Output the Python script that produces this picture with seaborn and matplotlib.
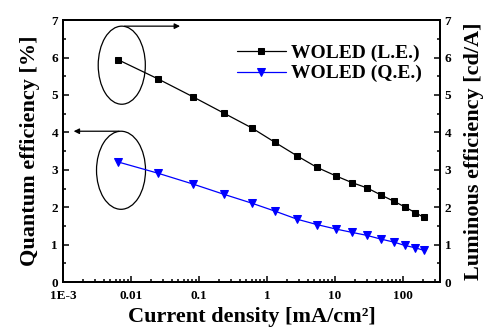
import numpy as np
import pandas as pd
import matplotlib
matplotlib.use("Agg")
import matplotlib.pyplot as plt
import seaborn as sns
from matplotlib.patches import Ellipse
from matplotlib.ticker import FixedLocator, FixedFormatter, LogLocator, MultipleLocator, NullFormatter

# данные
current_density = [0.0065, 0.025, 0.082, 0.23, 0.6, 1.3, 2.8, 5.4, 10.3, 17.8, 29.5, 47.5, 74, 107, 151, 204]
luminous_eff = [5.94, 5.43, 4.95, 4.52, 4.12, 3.74, 3.37, 3.07, 2.84, 2.66, 2.52, 2.33, 2.16, 2.01, 1.86, 1.73]
quantum_eff = [3.21, 2.91, 2.62, 2.35, 2.11, 1.90, 1.68, 1.54, 1.42, 1.33, 1.25, 1.15, 1.07, 0.98, 0.92, 0.85]
x_ticks = [1e-3, 1e-2, 1e-1, 1, 10, 100]
x_tick_labels = ["1E-3", "0.01", "0.1", "1", "10", "100"]
series_names = ["WOLED (L.E.)", "WOLED (Q.E.)"]

sns.set_style("ticks", {"axes.edgecolor": "black", "xtick.color": "black", "ytick.color": "black",
                        "text.color": "black", "axes.labelcolor": "black"})
plt.rcParams["font.family"] = ["Liberation Serif", "DejaVu Serif"]
plt.rcParams["font.weight"] = "bold"

df = pd.DataFrame({"J": current_density, "LE": luminous_eff, "QE": quantum_eff})

fig, ax = plt.subplots(figsize=(4.92, 3.3), dpi=100)
fig.subplots_adjust(left=0.128, right=0.894, bottom=0.145, top=0.939)
ax2 = ax.twinx()

sns.lineplot(data=df, x="J", y="QE", ax=ax, color="blue", marker="v", markersize=5.5,
             markeredgecolor="blue", linewidth=0.9, label=series_names[1], legend=False)
sns.lineplot(data=df, x="J", y="LE", ax=ax2, color="black", marker="s", markersize=4.6,
             markeredgecolor="black", linewidth=0.9, label=series_names[0], legend=False)

for a in (ax, ax2):
    a.set_xscale("log")
    a.set_xlim(1e-3, 350)
    a.set_ylim(0, 7)
    a.yaxis.set_major_locator(MultipleLocator(1))
    a.yaxis.set_minor_locator(MultipleLocator(0.5))
    a.tick_params(which="both", direction="in", labelsize=9.5, width=1.1, colors="black")
    a.tick_params(which="major", length=4)
    a.tick_params(which="minor", length=2.5)
    for s in a.spines.values():
        s.set_linewidth(1.4)
        s.set_color("black")

ax.xaxis.set_major_locator(FixedLocator(x_ticks))
ax.xaxis.set_major_formatter(FixedFormatter(x_tick_labels))
ax.xaxis.set_minor_locator(LogLocator(base=10, subs=np.arange(2, 10), numticks=20))
ax.xaxis.set_minor_formatter(NullFormatter())
ax.tick_params(axis="x", which="both", top=False, pad=6)
ax2.tick_params(axis="x", which="both", top=False, bottom=False)

ax.set_xlabel("Current density [mA/cm²]", fontsize=16, fontweight="bold", labelpad=3)
ax.set_ylabel("Quantum efficiency [%]", fontsize=16, fontweight="bold", labelpad=8)
ax2.set_ylabel("Luminous efficiency [cd/A]", fontsize=16, fontweight="bold", rotation=90, labelpad=9)
for lab in ax.get_xticklabels() + ax.get_yticklabels() + ax2.get_yticklabels():
    lab.set_fontweight("bold")

# эллипсы и стрелки
ax.add_patch(Ellipse((0.156, 0.828), 0.125, 0.298, transform=ax.transAxes,
                     fill=False, edgecolor="black", linewidth=0.9))
ax.add_patch(Ellipse((0.154, 0.427), 0.13, 0.298, transform=ax.transAxes,
                     fill=False, edgecolor="black", linewidth=0.9))
ax.annotate("", xy=(0.318, 0.977), xytext=(0.156, 0.977), xycoords="axes fraction",
            arrowprops=dict(arrowstyle="-|>", color="black", lw=0.9, mutation_scale=8))
ax.annotate("", xy=(0.021, 0.576), xytext=(0.156, 0.576), xycoords="axes fraction",
            arrowprops=dict(arrowstyle="-|>", color="black", lw=0.9, mutation_scale=8))

h1, l1 = ax2.get_legend_handles_labels()
h2, l2 = ax.get_legend_handles_labels()
ax2.legend(h1 + h2, l1 + l2, loc="upper right", bbox_to_anchor=(1.0, 0.975), frameon=False,
           prop={"weight": "bold", "size": 14}, handlelength=2.5, handletextpad=0.3,
           labelspacing=0.15, numpoints=1)

fig.savefig("out.png", dpi=100)
